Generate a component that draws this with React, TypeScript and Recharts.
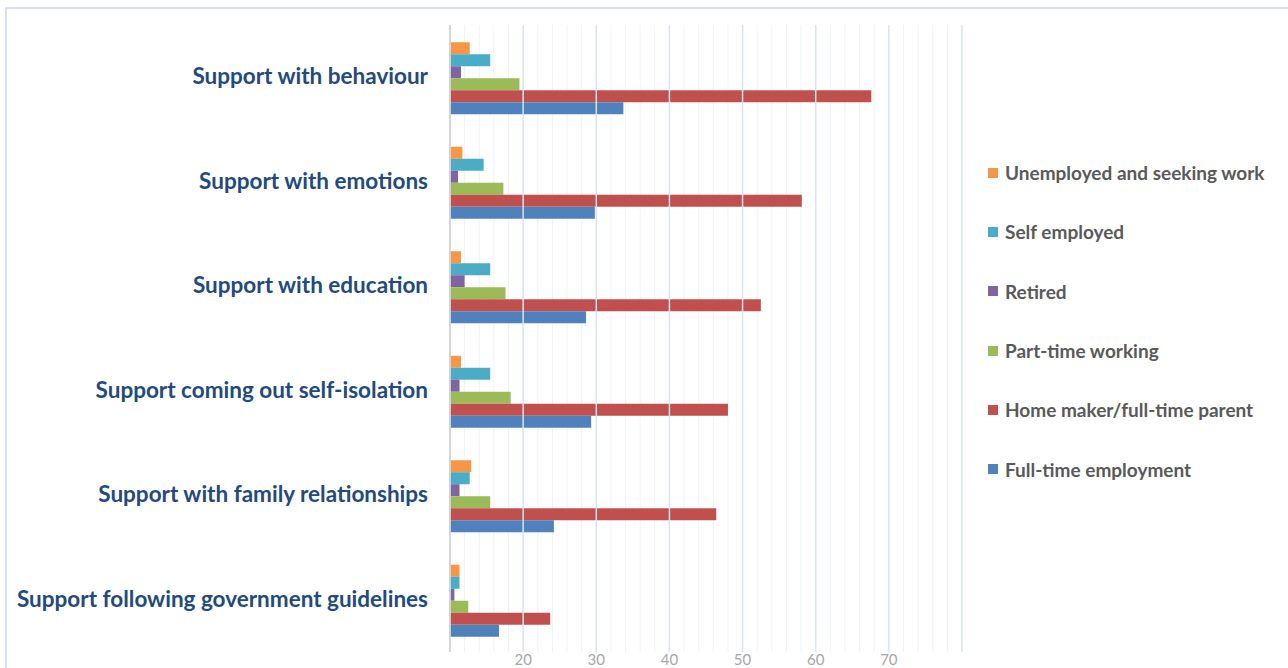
import React from "react";
import { BarChart, Bar, XAxis, YAxis, CartesianGrid, ReferenceLine } from "recharts";

const categories = [
  "Support with behaviour",
  "Support with emotions",
  "Support with education",
  "Support coming out self-isolation",
  "Support with  family relationships",
  "Support following government guidelines",
];

const unemployed = [12.7, 11.7, 11.5, 11.5, 12.9, 11.3];
const selfEmployed = [15.5, 14.6, 15.5, 15.5, 12.7, 11.3];
const retired = [11.5, 11.1, 12.0, 11.3, 11.3, 10.6];
const partTime = [19.5, 17.3, 17.6, 18.3, 15.5, 12.5];
const homeMaker = [67.6, 58.1, 52.5, 48.0, 46.4, 23.7];
const fullTime = [33.7, 29.8, 28.6, 29.3, 24.2, 16.7];

const seriesNames = [
  "Unemployed and seeking work",
  "Self employed",
  "Retired",
  "Part-time working",
  "Home maker/full-time parent",
  "Full-time employment",
];
const seriesKeys = ["unemployed", "selfEmployed", "retired", "partTime", "homeMaker", "fullTime"];
const seriesColors = ["#F79646", "#4BACC6", "#8064A2", "#9BBB59", "#C0504D", "#4F81BD"];
const seriesValues = [unemployed, selfEmployed, retired, partTime, homeMaker, fullTime];

const axisMin = 10;
const axisMax = 80;
const labeledTicks = [20, 30, 40, 50, 60, 70];
const majorLines = [10, 20, 30, 40, 50, 60, 70, 80];
const allTicks: number[] = [];
for (let v = axisMin; v <= axisMax; v += 2) allTicks.push(v);

const data = categories.map((c, i) => {
  const row: any = { category: c };
  seriesKeys.forEach((k, j) => {
    row[k] = seriesValues[j][i];
  });
  return row;
});

const XTick = (props: any) => {
  const { x, y, payload } = props;
  if (!labeledTicks.includes(payload.value)) return null;
  return (
    <text x={x} y={y + 5} textAnchor="middle" fill="#a6a6a6" fontSize={15} fontFamily="Lato, sans-serif">
      {payload.value}
    </text>
  );
};

const YTick = (props: any) => {
  const { y, payload } = props;
  return (
    <text x={428} y={y + 7} textAnchor="end" fill="#234a7c" fontSize={22.5} fontWeight={700} fontFamily="Lato, sans-serif">
      {payload.value}
    </text>
  );
};

export default function App() {
  return (
    <div style={{ position: "absolute", left: 0, top: 0, width: 1288, height: 668, overflow: "hidden", background: "#fff" }}>
      <div
        style={{
          position: "absolute",
          left: 5,
          top: 7,
          width: 1320,
          height: 720,
          border: "2px solid #d6e2f1",
          boxSizing: "border-box",
        }}
      />
      <div style={{ position: "absolute", left: 0, top: 0 }}>
        <BarChart
          width={1288}
          height={668}
          data={data}
          layout="vertical"
          margin={{ top: 25, right: 326, bottom: 0, left: 0 }}
          barCategoryGap="16.5%"
          barGap={0}
        >
          <CartesianGrid horizontal={false} stroke="#eef3fa" strokeWidth={1} />
          {majorLines.map((v) => (
            <ReferenceLine key={v} x={v} stroke="#d9e4f2" strokeWidth={1.5} />
          ))}
          <XAxis
            type="number"
            domain={[axisMin, axisMax]}
            allowDataOverflow
            ticks={allTicks}
            interval={0}
            axisLine={false}
            tickLine={false}
            tick={<XTick />}
            height={16}
          />
          <YAxis
            type="category"
            dataKey="category"
            width={450}
            axisLine={{ stroke: "#d0d0d0", strokeWidth: 1.5 }}
            tickLine={false}
            tick={<YTick />}
            interval={0}
          />
          {seriesKeys.map((k, i) => (
            <Bar key={k} dataKey={k} name={seriesNames[i]} fill={seriesColors[i]} isAnimationActive={false} />
          ))}
        </BarChart>
      </div>
      <div style={{ position: "absolute", left: 988, top: 143, fontFamily: "Lato, sans-serif" }}>
        {seriesNames.map((n, i) => (
          <div key={n} style={{ display: "flex", alignItems: "center", height: 59.3 }}>
            <div style={{ width: 10, height: 10, background: seriesColors[i], marginRight: 7 }} />
            <span style={{ fontSize: 19, fontWeight: 700, color: "#595959", whiteSpace: "nowrap" }}>{n}</span>
          </div>
        ))}
      </div>
    </div>
  );
}
